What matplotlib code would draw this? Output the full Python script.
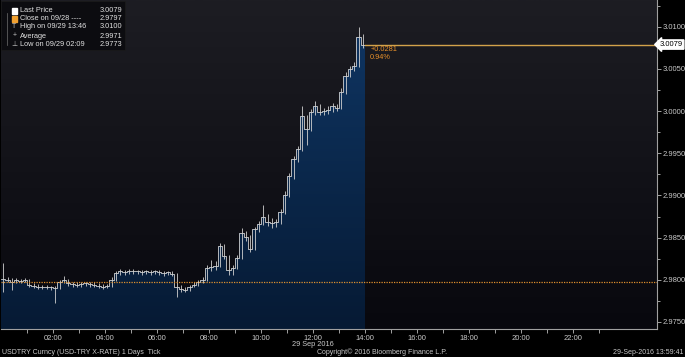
import numpy as np
import matplotlib.pyplot as plt
from matplotlib.colors import LinearSegmentedColormap
from matplotlib.patches import Polygon

# 10-minute bars, 29 Sep 2016, USDTRY
close = [
    2.9801, 2.9800, 2.9797, 2.9800, 2.9799, 2.9800, 2.9794, 2.9793, 2.9792, 2.9791,
    2.9792, 2.9791, 2.9790, 2.9797, 2.9800, 2.9796, 2.9795, 2.9794, 2.9795, 2.9796,
    2.9795, 2.9794, 2.9793, 2.9792, 2.9793, 2.9800, 2.9808, 2.9810, 2.9809, 2.9811,
    2.9810, 2.9810, 2.9809, 2.9810, 2.9809, 2.9810, 2.9809, 2.9808, 2.9809, 2.9807,
    2.9792, 2.9789, 2.9788, 2.9792, 2.9794, 2.9797, 2.9800, 2.9814, 2.9815, 2.9816,
    2.9840, 2.9828, 2.9812, 2.9814, 2.9826, 2.9856, 2.9851, 2.9836, 2.9860, 2.9866,
    2.9874, 2.9869, 2.9867, 2.9868, 2.9880, 2.9900, 2.9923, 2.9943, 2.9955, 2.9994,
    2.9979, 2.9999, 3.0006, 2.9999, 3.0000, 3.0001, 3.0006, 3.0004, 3.0023, 3.0042,
    3.0050, 3.0054, 3.0088, 3.0079]
high = [
    2.9820, 2.9803, 2.9802, 2.9802, 2.9801, 2.9802, 2.9801, 2.9796, 2.9795, 2.9794,
    2.9794, 2.9793, 2.9793, 2.9800, 2.9804, 2.9801, 2.9797, 2.9797, 2.9797, 2.9798,
    2.9798, 2.9797, 2.9796, 2.9795, 2.9795, 2.9803, 2.9811, 2.9813, 2.9812, 2.9813,
    2.9813, 2.9812, 2.9812, 2.9812, 2.9812, 2.9812, 2.9812, 2.9811, 2.9811, 2.9810,
    2.9808, 2.9794, 2.9791, 2.9794, 2.9797, 2.9800, 2.9803, 2.9818, 2.9823, 2.9822,
    2.9844, 2.9842, 2.9829, 2.9818, 2.9829, 2.9862, 2.9858, 2.9853, 2.9863, 2.9870,
    2.9889, 2.9878, 2.9873, 2.9872, 2.9884, 2.9905, 2.9927, 2.9947, 2.9959, 3.0006,
    2.9996, 3.0003, 3.0012, 3.0009, 3.0004, 3.0006, 3.0010, 3.0009, 3.0027, 3.0046,
    3.0054, 3.0058, 3.0100, 3.0092]
low = [
    2.9786, 2.9797, 2.9788, 2.9796, 2.9796, 2.9797, 2.9791, 2.9790, 2.9789, 2.9789,
    2.9789, 2.9788, 2.9773, 2.9789, 2.9796, 2.9793, 2.9792, 2.9791, 2.9792, 2.9793,
    2.9792, 2.9791, 2.9790, 2.9789, 2.9790, 2.9792, 2.9799, 2.9806, 2.9806, 2.9807,
    2.9807, 2.9807, 2.9806, 2.9807, 2.9806, 2.9807, 2.9806, 2.9805, 2.9806, 2.9804,
    2.9780, 2.9786, 2.9785, 2.9787, 2.9791, 2.9793, 2.9796, 2.9799, 2.9810, 2.9812,
    2.9815, 2.9825, 2.9806, 2.9806, 2.9813, 2.9825, 2.9846, 2.9833, 2.9835, 2.9857,
    2.9865, 2.9864, 2.9862, 2.9863, 2.9866, 2.9878, 2.9898, 2.9920, 2.9940, 2.9953,
    2.9960, 2.9977, 2.9996, 2.9995, 2.9996, 2.9997, 2.9999, 3.0000, 3.0003, 3.0020,
    3.0040, 3.0048, 3.0052, 3.0075]

prev_close = 2.9797
last_price = 3.0079
hour_labels = ['02:00', '04:00', '06:00', '08:00', '10:00', '12:00',
               '14:00', '16:00', '18:00', '20:00', '22:00']
y_ticks = [2.9750, 2.9800, 2.9850, 2.9900, 2.9950, 3.0000, 3.0050, 3.0100]

legend_rows = [('Last Price', '3.0079'),
               ('Close on 09/28 ----', '2.9797'),
               ('High on 09/29 13:46', '3.0100'),
               ('Average', '2.9971'),
               ('Low on 09/29 02:09', '2.9773')]

plt.rcParams['font.family'] = ['Liberation Sans', 'DejaVu Sans']
txt_col = '#c8c8c8'

fig = plt.figure(figsize=(6.85, 3.57), dpi=100, facecolor='black')
ax = fig.add_axes([1 / 685, 28 / 357, 656 / 685, 329 / 357])
x0, x1 = 0, 25.23
y0, y1 = 2.97417, 3.01318
ax.set_xlim(x0, x1)
ax.set_ylim(y0, y1)

# background gradient
bg = LinearSegmentedColormap.from_list('bg', ['#08080e', '#1d1d23'])
ax.imshow(np.linspace(0, 1, 256).reshape(-1, 1), cmap=bg, aspect='auto',
          extent=[x0, x1, y0, y1], origin='lower', zorder=0)

# filled area under the step close
n = len(close)
edges = np.arange(n + 1) / 6.0
xs = np.repeat(edges, 2)[1:-1]
ys = np.repeat(close, 2)
poly = np.column_stack([np.r_[xs, xs[-1], xs[0]], np.r_[ys, y0, y0]])
patch = Polygon(poly, closed=True, facecolor='none', edgecolor='none')
ax.add_patch(patch)
fill_cm = LinearSegmentedColormap.from_list('fill', ['#061a34', '#0f3562'])
im = ax.imshow(np.linspace(0, 1, 256).reshape(-1, 1), cmap=fill_cm, aspect='auto',
               extent=[x0, x1, y0, 3.0100], origin='lower', zorder=1)
im.set_clip_path(patch)

# bars: step line + high/low
ax.step(xs, ys, color='#d0d0d0', lw=0.6, zorder=3)
centers = edges[:-1] + 1 / 12.0
ax.vlines(centers, low, high, color='#d0d0d0', lw=0.6, zorder=3)

# reference lines
ax.axhline(prev_close, color='#e0902e', lw=0.9, ls=(0, (1, 1)), zorder=4)
ax.plot([edges[-1], x1], [last_price, last_price], color='#d2a24a', lw=1.0, zorder=4)
ax.text(edges[-1] + 0.2, last_price - 0.00022, '+0.0281', color='#e8902a',
        fontsize=5.3, va='top', zorder=5)
ax.text(edges[-1] + 0.2, last_price - 0.00118, '0.94%', color='#e8902a',
        fontsize=5.3, va='top', zorder=5)

# axes styling
for s in ['top', 'left']:
    ax.spines[s].set_visible(False)
for s in ['bottom', 'right']:
    ax.spines[s].set_color('#a0a0a0')
    ax.spines[s].set_linewidth(0.8)
ax.yaxis.tick_right()
ax.set_yticks(y_ticks)
ax.set_yticklabels([f'{v:.4f}' for v in y_ticks])
ax.set_yticks(np.arange(2.9775, 3.0126, 0.005), minor=True)
ax.set_xticks(np.arange(2, 24, 2))
ax.set_xticklabels(hour_labels)
ax.set_xticks(np.arange(1, 25, 2), minor=True)
ax.tick_params(axis='both', which='both', colors='#a0a0a0', labelcolor=txt_col,
               labelsize=5.5, length=3, width=0.7, pad=1)
ax.tick_params(axis='y', which='minor', length=2)

# last price tag
ax.text(1.004, last_price, '3.0079', transform=ax.get_yaxis_transform(),
        fontsize=5.5, color='black', va='center', ha='left', zorder=6,
        bbox=dict(boxstyle='larrow,pad=0.15', fc='white', ec='white'), clip_on=False)

# legend block
fig.patches.append(plt.Rectangle((1 / 685, 1 - 50 / 357), 124 / 685, 49 / 357,
                                 transform=fig.transFigure, fc='#0c0c10',
                                 ec='#1c1c1c', lw=0.5))
row_y = [11, 19, 27, 36, 44]
for (label, val), py in zip(legend_rows, row_y):
    yf = 1 - py / 357
    fig.text(20 / 685, yf, label, color='#e0e0e0', fontsize=5.3, va='center')
    fig.text(122 / 685, yf, val, color='#e0e0e0', fontsize=5.3, va='center', ha='right')
fig.patches.append(plt.Rectangle((12 / 685, 1 - 14 / 357), 5 / 685, 6 / 357,
                                 transform=fig.transFigure, fc='white', ec='white'))
fig.patches.append(plt.Rectangle((12 / 685, 1 - 22 / 357), 5 / 685, 6 / 357,
                                 transform=fig.transFigure, fc='#f0a030', ec='#f0a030'))
fig.text(14.5 / 685, 1 - 27 / 357, 'T', color='#c0c0c0', fontsize=5, va='center', ha='center')
fig.text(14.5 / 685, 1 - 36 / 357, '+', color='#c0c0c0', fontsize=5, va='center', ha='center')
fig.text(14.5 / 685, 1 - 44 / 357, '\u22a5', color='#c0c0c0', fontsize=5, va='center',
         ha='center', family='DejaVu Sans')
fig.lines.append(plt.Line2D([7 / 685, 7 / 685], [1 - 13 / 357, 1 - 45 / 357],
                            transform=fig.transFigure, color='#707070', lw=0.5))

# footer texts
fig.text(313 / 685, 1 - 344.5 / 357, '29 Sep 2016', color=txt_col, fontsize=5.3,
         ha='center', va='center')
fig.text(2 / 685, 1 - 352 / 357, 'USDTRY Curncy (USD-TRY X-RATE) 1 Days  Tick',
         color=txt_col, fontsize=5, va='center')
fig.text(382 / 685, 1 - 352 / 357, 'Copyright\u00a9 2016 Bloomberg Finance L.P.',
         color=txt_col, fontsize=5, ha='center', va='center')
fig.text(683 / 685, 1 - 352 / 357, '29-Sep-2016 13:59:41', color=txt_col,
         fontsize=5, ha='right', va='center')

fig.savefig('out.png', dpi=100, facecolor='black')
